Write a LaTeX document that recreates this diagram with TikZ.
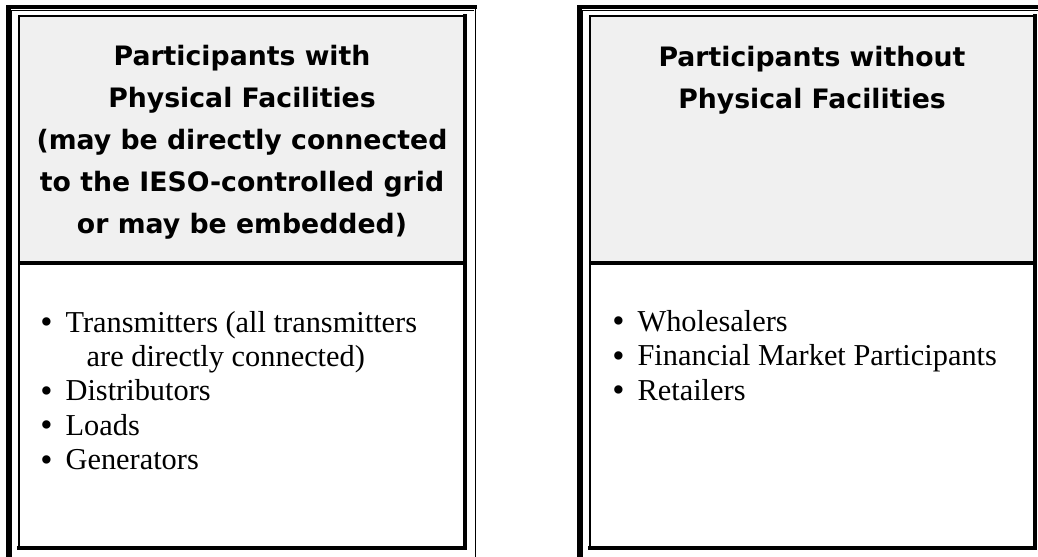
\documentclass[tikz,border=0pt]{standalone}
\usepackage{fontspec}
\setmainfont{Liberation Serif}
\newfontfamily\headfont{DejaVu Sans}
\definecolor{headgray}{RGB}{240,240,240}
\tikzset{
	outerframe/.style={line width=3.2pt},
	thinline/.style={line width=1pt},
	shadowline/.style={line width=3.4pt},
	headtext/.style={align=center, inner sep=0pt, font=\headfont\bfseries\fontsize{19}{29.9}\selectfont},
	itemtext/.style={align=left, anchor=west, inner sep=0pt, font=\fontsize{21.6}{24.5}\selectfont}
}
\newcommand{\itm}{\makebox[18pt][l]{\raisebox{-0.04em}{\scalebox{1.15}{\textbullet}}}}

\begin{document}
\begin{tikzpicture}[x=0.025cm, y=-0.025cm]
	\useasboundingbox (0,0) rectangle (1038,557);
	\clip (0,0) rectangle (1038,557);
	% left frame
	\draw[outerframe] (8.5,570) -- (8.5,7) -- (477,7);
	\draw[line width=0.5pt] (11.5,570) -- (11.5,10) -- (474,10);
	\draw[thinline] (475.5,5.5) -- (475.5,570);
	\fill[headgray] (19,16) rectangle (465,263);
	\draw[thinline] (19,548) -- (19,16) -- (465,16);
	\draw[shadowline] (465,14) -- (465,548) -- (17,548);
	\draw[shadowline] (19,263) -- (465,263);
	% right frame
	\draw[outerframe] (579.5,570) -- (579.5,7) -- (1048,7);
	\draw[line width=0.5pt] (582.5,570) -- (582.5,10) -- (1045,10);
	\fill[headgray] (590,16) rectangle (1035,263);
	\draw[thinline] (590,548) -- (590,16) -- (1035,16);
	\draw[shadowline] (1035,14) -- (1035,548) -- (588,548);
	\draw[shadowline] (590,263) -- (1035,263);
	% texts
	\node[headtext] (withhead) at (242,142) {Participants with\\Physical Facilities\\(may be directly connected\\to the IESO-controlled grid\\or may be embedded)};
	\node[headtext] (withouthead) at (812,80) {Participants without\\Physical Facilities};
	\node[itemtext] (withlist) at (40,391) {\itm Transmitters (all transmitters\\\hspace{33pt}are directly connected)\\\itm Distributors\\\itm Loads\\\itm Generators};
	\node[itemtext] (withoutlist) at (612,356) {\itm Wholesalers\\\itm Financial Market Participants\\\itm Retailers};
\end{tikzpicture}
\end{document}
